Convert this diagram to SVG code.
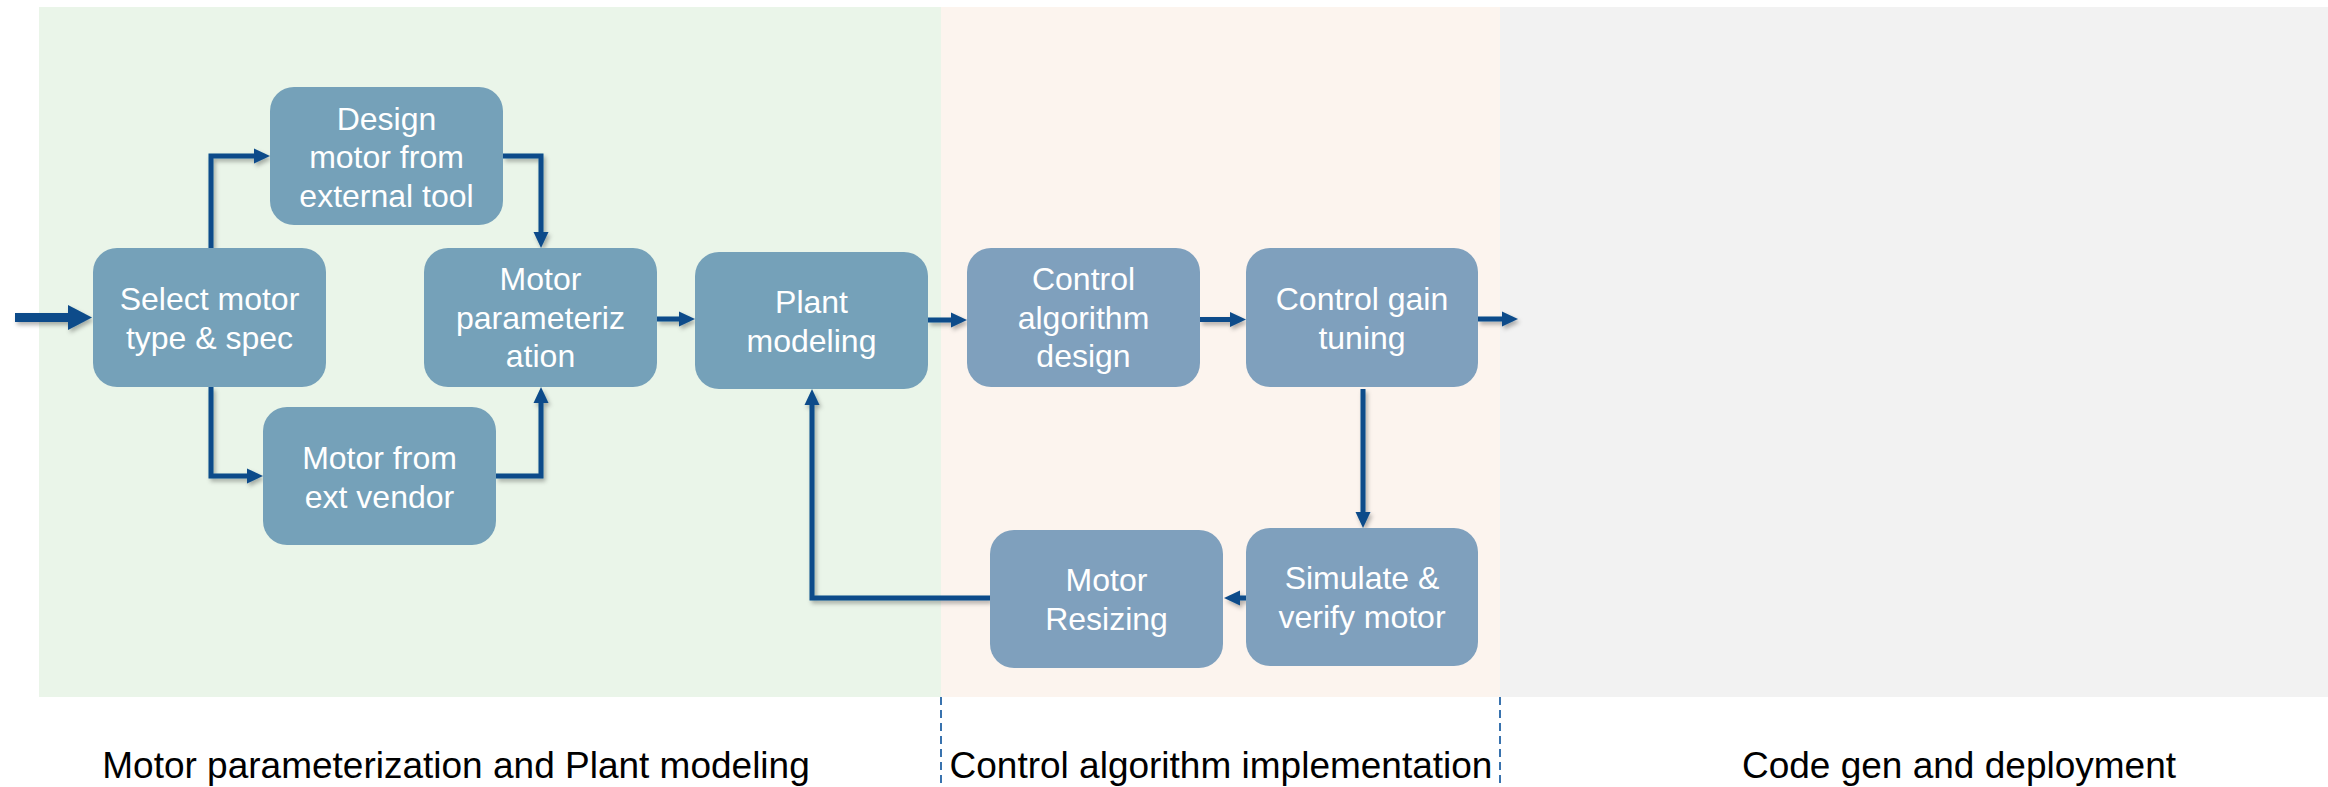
<svg xmlns="http://www.w3.org/2000/svg" width="2328" height="787" viewBox="0 0 2328 787">
  <defs>
    <style>
      .node-a { fill: #75A1B9; }
      .node-b { fill: #7FA0BD; }
      .lbl { font-family: "Liberation Sans", Arial, sans-serif; font-size: 32px; fill: #FFFFFF; text-anchor: middle; }
      .phase { font-family: "Liberation Sans", Arial, sans-serif; font-size: 37px; fill: #000000; text-anchor: middle; }
      .wire { fill: none; stroke: #0B4C8A; stroke-width: 5; stroke-linejoin: miter; marker-end: url(#head); }
      .divider { stroke: #2464A6; stroke-width: 1.8; stroke-dasharray: 8 5; }
    </style>
    <marker id="head" markerUnits="userSpaceOnUse" markerWidth="17" markerHeight="16" refX="0" refY="7.5" orient="auto" overflow="visible">
      <path d="M0,0 L16,7.5 L0,15 Z" fill="#0B4C8A"/>
    </marker>
    <filter id="shade" x="-20%" y="-20%" width="140%" height="140%">
      <feDropShadow dx="2" dy="3" stdDeviation="2" flood-color="#000000" flood-opacity="0.3"/>
    </filter>
  </defs>

  <!-- phase bands -->
  <g id="bands">
    <rect x="39" y="7" width="902" height="690" fill="#EAF5E9"/>
    <rect x="941" y="7" width="559" height="690" fill="#FCF4EE"/>
    <rect x="1500" y="7" width="828" height="690" fill="#F2F2F2"/>
    <line class="divider" x1="941" y1="697" x2="941" y2="787"/>
    <line class="divider" x1="1500" y1="697" x2="1500" y2="787"/>
  </g>

  <!-- connectors -->
  <g id="connectors" filter="url(#shade)">
    <line x1="15" y1="317.5" x2="68" y2="317.5" stroke="#0B4C8A" stroke-width="9"/>
    <polygon points="68,305 92,317.5 68,330" fill="#0B4C8A"/>
    <path class="wire" d="M211,248 V156 H254"/>
    <path class="wire" d="M503,156 H541 V232"/>
    <path class="wire" d="M211,387 V476 H247"/>
    <path class="wire" d="M496,476 H541 V403"/>
    <path class="wire" d="M657,319 H679"/>
    <path class="wire" d="M928,320 H951"/>
    <path class="wire" d="M1200,319.5 H1230"/>
    <path class="wire" d="M1478,319 H1502"/>
    <path class="wire" d="M1363,389 V512"/>
    <path class="wire" d="M1246,598 H1240"/>
    <path class="wire" d="M990,598 H812 V405"/>
  </g>

  <!-- process steps -->
  <g id="select-motor">
    <rect class="node-a" x="93" y="248" width="233" height="139" rx="24"/>
    <text class="lbl" x="209.5" y="310">Select motor</text>
    <text class="lbl" x="209.5" y="348.5">type &amp; spec</text>
  </g>
  <g id="design-motor">
    <rect class="node-a" x="270" y="87" width="233" height="138" rx="24"/>
    <text class="lbl" x="386.5" y="129.5">Design</text>
    <text class="lbl" x="386.5" y="168">motor from</text>
    <text class="lbl" x="386.5" y="206.5">external tool</text>
  </g>
  <g id="vendor-motor">
    <rect class="node-a" x="263" y="407" width="233" height="138" rx="24"/>
    <text class="lbl" x="379.5" y="469">Motor from</text>
    <text class="lbl" x="379.5" y="507.5">ext vendor</text>
  </g>
  <g id="motor-param">
    <rect class="node-a" x="424" y="248" width="233" height="139" rx="24"/>
    <text class="lbl" x="540.5" y="290">Motor</text>
    <text class="lbl" x="540.5" y="328.5">parameteriz</text>
    <text class="lbl" x="540.5" y="367">ation</text>
  </g>
  <g id="plant-model">
    <rect class="node-a" x="695" y="252" width="233" height="137" rx="24"/>
    <text class="lbl" x="811.5" y="313">Plant</text>
    <text class="lbl" x="811.5" y="351.5">modeling</text>
  </g>
  <g id="control-design">
    <rect class="node-b" x="967" y="248" width="233" height="139" rx="24"/>
    <text class="lbl" x="1083.5" y="290">Control</text>
    <text class="lbl" x="1083.5" y="328.5">algorithm</text>
    <text class="lbl" x="1083.5" y="367">design</text>
  </g>
  <g id="gain-tuning">
    <rect class="node-b" x="1246" y="248" width="232" height="139" rx="24"/>
    <text class="lbl" x="1362" y="310">Control gain</text>
    <text class="lbl" x="1362" y="348.5">tuning</text>
  </g>
  <g id="simulate-verify">
    <rect class="node-b" x="1246" y="528" width="232" height="138" rx="24"/>
    <text class="lbl" x="1362" y="589">Simulate &amp;</text>
    <text class="lbl" x="1362" y="627.5">verify motor</text>
  </g>
  <g id="motor-resizing">
    <rect class="node-b" x="990" y="530" width="233" height="138" rx="24"/>
    <text class="lbl" x="1106.5" y="591">Motor</text>
    <text class="lbl" x="1106.5" y="629.5">Resizing</text>
  </g>

  <!-- phase captions -->
  <g id="captions">
    <text class="phase" x="456" y="778">Motor parameterization and Plant modeling</text>
    <text class="phase" x="1221" y="778">Control algorithm implementation</text>
    <text class="phase" x="1959" y="778">Code gen and deployment</text>
  </g>
</svg>
